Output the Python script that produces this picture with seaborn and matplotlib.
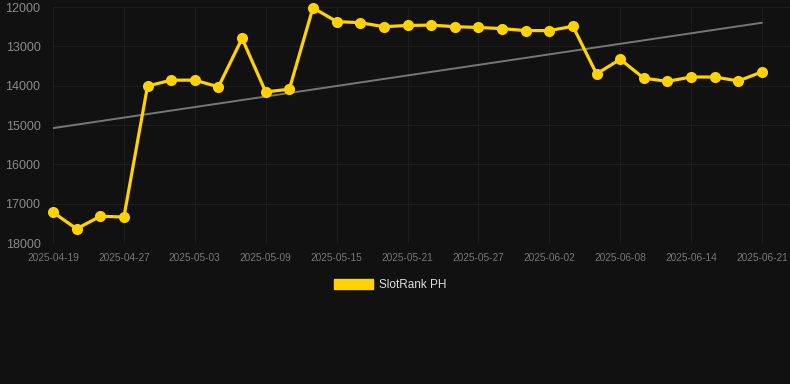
import pandas as pd
import matplotlib
matplotlib.use("Agg")
import matplotlib.pyplot as plt
import seaborn as sns
from matplotlib.patches import Patch

# datos (rango, eje invertido)
fechas = ['2025-04-19', '2025-04-22', '2025-04-25', '2025-04-27', '2025-04-29', '2025-05-01',
          '2025-05-03', '2025-05-05', '2025-05-07', '2025-05-09', '2025-05-11', '2025-05-13',
          '2025-05-15', '2025-05-17', '2025-05-19', '2025-05-21', '2025-05-23', '2025-05-25',
          '2025-05-27', '2025-05-29', '2025-05-31', '2025-06-02', '2025-06-04', '2025-06-06',
          '2025-06-08', '2025-06-10', '2025-06-12', '2025-06-14', '2025-06-16', '2025-06-18',
          '2025-06-21']
rango = [17220, 17640, 17320, 17340, 14010, 13860, 13860, 14030, 12800, 14160, 14090, 12020,
         12370, 12400, 12500, 12470, 12460, 12500, 12520, 12550, 12600, 12600, 12490, 13700,
         13330, 13810, 13890, 13780, 13780, 13880, 13650]
tendencia_fechas = ['2025-04-19', '2025-06-21']
tendencia_rango = [15080, 12400]
serie = 'SlotRank PH'

df = pd.DataFrame({'fecha': fechas, 'rango': rango})
df['pos'] = range(len(df))
df_t = pd.DataFrame({'pos': [0, len(df) - 1], 'rango': tendencia_rango})

sns.set_theme(style="dark")
plt.rcParams['font.family'] = ['Liberation Sans', 'DejaVu Sans']

fondo = '#111111'
amarillo = '#FFD200'

fig = plt.figure(figsize=(7.9, 3.84), dpi=100, facecolor=fondo)
ax = fig.add_axes([53 / 790, 1 - 243 / 384, 737 / 790, 236 / 384])
ax.set_facecolor(fondo)

sns.lineplot(data=df_t, x='pos', y='rango', ax=ax, color='#777777', linewidth=1.4, zorder=2)
sns.lineplot(data=df, x='pos', y='rango', ax=ax, color=amarillo, linewidth=2.3,
             marker='o', markersize=8, markeredgewidth=0, zorder=3, clip_on=False)

ax.set_ylim(18000, 12000)
ax.set_xlim(0, 30 * 737 / 709)
ax.set_yticks([12000, 13000, 14000, 15000, 16000, 17000, 18000])
ticks_x = list(range(0, len(df), 3))
ax.set_xticks(ticks_x)
ax.set_xticklabels([fechas[i] for i in ticks_x])
ax.grid(True, color='#1d1d1d', linewidth=0.8)
ax.set_axisbelow(True)
for s in ax.spines.values():
    s.set_visible(False)
ax.tick_params(axis='y', colors='#8a8a8a', labelsize=9, length=0, pad=9)
ax.tick_params(axis='x', colors='#777777', labelsize=7.3, length=3, pad=4)
ax.tick_params(axis='x', color='#1d1d1d')
ax.set_xlabel('')
ax.set_ylabel('')

fig.legend(handles=[Patch(facecolor=amarillo, edgecolor=amarillo)], labels=[serie],
           loc='center', bbox_to_anchor=(390 / 790, 1 - 285 / 384), frameon=False,
           fontsize=8.5, labelcolor='#dddddd', handlelength=3.3, handleheight=0.9,
           handletextpad=0.5)

fig.savefig('out.png', dpi=100, facecolor=fondo)
